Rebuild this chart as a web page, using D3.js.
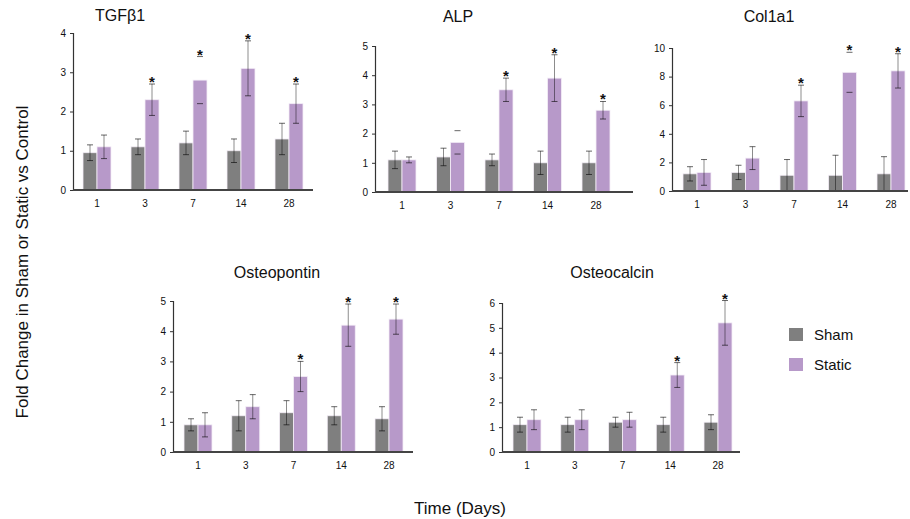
<!DOCTYPE html>
<html>
<head>
<meta charset="utf-8">
<script src="https://cdn.jsdelivr.net/npm/d3@7"></script>
<style>
  body { margin: 0; background: #fff; }
  svg { font-family: "Liberation Sans", Arial, Helvetica, sans-serif; }
</style>
</head>
<body>
<div id="chart"></div>
<script>
const width = 910;
const height = 519;

const days = ["1", "3", "7", "14", "28"];
const seriesNames = ["Sham", "Static"];
const colors = ["#7f7f7f", "#b799c9"];

// TGFb1
const tgfSham = [0.95, 1.1, 1.2, 1.0, 1.3];
const tgfShamErr = [0.2, 0.2, 0.3, 0.3, 0.4];
const tgfStatic = [1.1, 2.3, 2.8, 3.1, 2.2];
const tgfStaticErr = [0.3, 0.4, 0.6, 0.7, 0.5];
const tgfStars = ["3", "7", "14", "28"];
const tgfTicks = [0, 1, 2, 3, 4];

// ALP
const alpSham = [1.1, 1.2, 1.1, 1.0, 1.0];
const alpShamErr = [0.3, 0.3, 0.2, 0.4, 0.4];
const alpStatic = [1.1, 1.7, 3.5, 3.9, 2.8];
const alpStaticErr = [0.1, 0.4, 0.4, 0.8, 0.3];
const alpStars = ["7", "14", "28"];
const alpTicks = [0, 1, 2, 3, 4, 5];

// Col1a1
const colSham = [1.2, 1.3, 1.1, 1.1, 1.2];
const colShamErr = [0.5, 0.5, 1.1, 1.4, 1.2];
const colStatic = [1.3, 2.3, 6.3, 8.3, 8.4];
const colStaticErr = [0.9, 0.8, 1.1, 1.4, 1.2];
const colStars = ["7", "14", "28"];
const colTicks = [0, 2, 4, 6, 8, 10];

// Osteopontin
const opnSham = [0.9, 1.2, 1.3, 1.2, 1.1];
const opnShamErr = [0.2, 0.5, 0.4, 0.3, 0.4];
const opnStatic = [0.9, 1.5, 2.5, 4.2, 4.4];
const opnStaticErr = [0.4, 0.4, 0.5, 0.7, 0.5];
const opnStars = ["7", "14", "28"];
const opnTicks = [0, 1, 2, 3, 4, 5];

// Osteocalcin
const ocnSham = [1.1, 1.1, 1.2, 1.1, 1.2];
const ocnShamErr = [0.3, 0.3, 0.2, 0.3, 0.3];
const ocnStatic = [1.3, 1.3, 1.3, 3.1, 5.2];
const ocnStaticErr = [0.4, 0.4, 0.3, 0.5, 0.9];
const ocnStars = ["14", "28"];
const ocnTicks = [0, 1, 2, 3, 4, 5, 6];

// error bars drawn with caps only (no visible stem)
const tgfNoStem = ["7"];
const alpNoStem = ["3"];
const colNoStem = ["14"];

const panels = [
  { title: "TGF\u03b21", titleX: 120, titleY: 21, x0: 73, x1: 313, c0: 97, c1: 289, base: 190, top: 33,
    sham: tgfSham, shamErr: tgfShamErr, stat: tgfStatic, statErr: tgfStaticErr, stars: tgfStars, ticks: tgfTicks, noStem: tgfNoStem },
  { title: "ALP", titleX: 458, titleY: 22, x0: 375, x1: 633, c0: 402, c1: 596, base: 192, top: 46,
    sham: alpSham, shamErr: alpShamErr, stat: alpStatic, statErr: alpStaticErr, stars: alpStars, ticks: alpTicks, noStem: alpNoStem },
  { title: "Col1a1", titleX: 769, titleY: 22, x0: 672, x1: 908, c0: 697, c1: 891, base: 191, top: 48,
    sham: colSham, shamErr: colShamErr, stat: colStatic, statErr: colStaticErr, stars: colStars, ticks: colTicks, noStem: colNoStem },
  { title: "Osteopontin", titleX: 277, titleY: 278, x0: 173, x1: 413, c0: 198, c1: 389, base: 452, top: 301,
    sham: opnSham, shamErr: opnShamErr, stat: opnStatic, statErr: opnStaticErr, stars: opnStars, ticks: opnTicks, noStem: [] },
  { title: "Osteocalcin", titleX: 612, titleY: 278, x0: 502, x1: 740, c0: 527, c1: 718, base: 452, top: 303,
    sham: ocnSham, shamErr: ocnShamErr, stat: ocnStatic, statErr: ocnStaticErr, stars: ocnStars, ticks: ocnTicks, noStem: [] }
];

const svg = d3.select("#chart")
  .append("svg")
  .attr("width", width)
  .attr("height", height);

const barW = 14;

panels.forEach(p => {
  const g = svg.append("g");

  const x = d3.scalePoint()
    .domain(days)
    .range([p.c0, p.c1]);

  const y = d3.scaleLinear()
    .domain([0, d3.max(p.ticks)])
    .range([p.base, p.top]);

  // title
  g.append("text")
    .attr("x", p.titleX)
    .attr("y", p.titleY)
    .attr("text-anchor", "middle")
    .style("font-size", "16px")
    .attr("fill", "#111")
    .text(p.title);

  // bars
  const rows = days.map((d, i) => ({
    day: d,
    vals: [
      { s: 0, v: p.sham[i], e: p.shamErr[i], stem: true },
      { s: 1, v: p.stat[i], e: p.statErr[i], stem: !p.noStem.includes(d) }
    ]
  }));

  const groups = g.selectAll(".grp")
    .data(rows)
    .enter()
    .append("g")
    .attr("class", "grp");

  groups.selectAll("rect")
    .data(r => r.vals.map(v => Object.assign({ day: r.day }, v)))
    .enter()
    .append("rect")
    .attr("x", d => x(d.day) - barW + d.s * barW)
    .attr("y", d => y(d.v))
    .attr("width", barW)
    .attr("height", d => p.base - y(d.v))
    .attr("fill", d => colors[d.s])
    .attr("stroke", "#f4eef7")
    .attr("stroke-width", 0.8);

  // error bars
  groups.each(function (r) {
    const gg = d3.select(this);
    r.vals.forEach(v => {
      const cx = x(r.day) - barW / 2 + v.s * barW;
      const hi = v.v + v.e;
      const lo = Math.max(0, v.v - v.e);
      if (v.stem) {
        gg.append("line")
          .attr("x1", cx).attr("x2", cx)
          .attr("y1", y(hi)).attr("y2", y(lo))
          .attr("stroke", "#000")
          .attr("stroke-opacity", 0.45)
          .attr("stroke-width", 1);
      }
      gg.append("line")
        .attr("x1", cx - 3).attr("x2", cx + 3)
        .attr("y1", y(hi)).attr("y2", y(hi))
        .attr("stroke", "#000")
        .attr("stroke-opacity", 0.6)
        .attr("stroke-width", 1);
      if (v.v - v.e > 0) {
        gg.append("line")
          .attr("x1", cx - 3).attr("x2", cx + 3)
          .attr("y1", y(lo)).attr("y2", y(lo))
          .attr("stroke", "#000")
          .attr("stroke-opacity", 0.6)
          .attr("stroke-width", 1);
      }
      if (v.s === 1 && p.stars.includes(r.day)) {
        gg.append("text")
          .attr("x", cx)
          .attr("y", y(hi) + 3)
          .attr("text-anchor", "middle")
          .style("font-size", "15px")
          .style("font-weight", "bold")
          .attr("fill", "#111")
          .text("*");
      }
    });
  });

  // y axis
  const yAxis = g.append("g")
    .attr("transform", `translate(${p.x0},0)`)
    .call(d3.axisLeft(y).tickValues(p.ticks).tickFormat(d3.format("d")).tickSize(3).tickPadding(4));
  yAxis.select(".domain").attr("stroke", "#333").attr("stroke-width", 1.2);
  yAxis.selectAll(".tick line").attr("stroke", "#333");
  yAxis.selectAll("text")
    .style("font-size", "10px")
    .style("font-family", "'Liberation Sans', Arial, sans-serif")
    .attr("fill", "#111");

  // x baseline
  g.append("line")
    .attr("x1", p.x0).attr("x2", p.x1)
    .attr("y1", p.base).attr("y2", p.base)
    .attr("stroke", "#444")
    .attr("stroke-width", 2);

  // x tick labels
  g.selectAll(".xlab")
    .data(days)
    .enter()
    .append("text")
    .attr("class", "xlab")
    .attr("x", d => x(d))
    .attr("y", p.base + 17)
    .attr("text-anchor", "middle")
    .style("font-size", "10px")
    .attr("fill", "#111")
    .text(d => d);
});

// axis titles
svg.append("text")
  .attr("transform", "rotate(-90)")
  .attr("x", -262)
  .attr("y", 28)
  .attr("text-anchor", "middle")
  .style("font-size", "17px")
  .attr("fill", "#111")
  .text("Fold Change in Sham or Static vs Control");

svg.append("text")
  .attr("x", 460)
  .attr("y", 514)
  .attr("text-anchor", "middle")
  .style("font-size", "17px")
  .attr("fill", "#111")
  .text("Time (Days)");

// legend
const legend = svg.append("g")
  .attr("transform", "translate(789,328)");

legend.selectAll("rect")
  .data(seriesNames)
  .enter()
  .append("rect")
  .attr("x", 0)
  .attr("y", (d, i) => i * 30)
  .attr("width", 14)
  .attr("height", 13)
  .attr("fill", (d, i) => colors[i]);

legend.selectAll("text")
  .data(seriesNames)
  .enter()
  .append("text")
  .attr("x", 25)
  .attr("y", (d, i) => i * 30 + 12)
  .style("font-size", "15px")
  .attr("fill", "#111")
  .text(d => d);
</script>
</body>
</html>
